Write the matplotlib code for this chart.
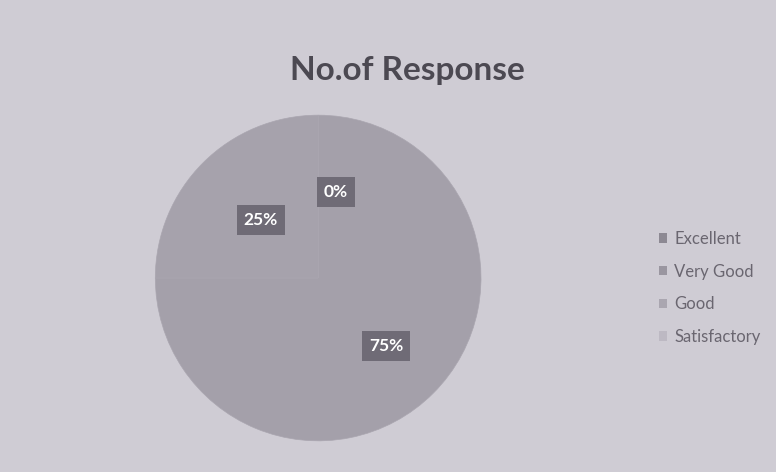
"""
Pie chart: No.of Response (share of responses per rating category).
"""

import numpy as np
import matplotlib.pyplot as plt
from matplotlib.patches import Patch

categories = ["Excellent", "Very Good", "Good", "Satisfactory"]
shares     = [75, 25, 0, 0]
pct_labels = ["75%", "25%", "0%", ""]

BG          = "#cfccd4"
SLICE_COLS  = ["#a4a0aa", "#a6a2ac", "#a8a4ae", "#aaa6b0"]
LEGEND_COLS = ["#8d8993", "#9a96a0", "#aaa6b0", "#bdb9c3"]
BOX_COL     = "#6f6b76"
TEXT_COL    = "#4c4952"


def main():
    plt.rcParams["font.family"] = ["Lato", "DejaVu Sans"]

    fig = plt.figure(figsize=(7.76, 4.72), dpi=100)
    fig.patch.set_facecolor(BG)

    fig.text(0.525, 0.85, "No.of Response", ha="center", va="center",
             fontsize=24, fontweight="bold", color=TEXT_COL)

    # pie axes, centre around (318, 278) px, radius ~163 px
    ax = fig.add_axes([0.41 - 0.21, 0.411 - 0.345, 0.42, 0.69])
    ax.set_facecolor(BG)
    wedges, _ = ax.pie(shares, colors=SLICE_COLS, startangle=90,
                       counterclock=False,
                       wedgeprops=dict(edgecolor="#aaa6b0", linewidth=0.5))
    ax.set_xlim(-1.0, 1.0)
    ax.set_ylim(-1.0, 1.0)
    ax.set_aspect("equal")

    # percentage labels in dark boxes, placed at the slice mid-angles
    total = float(sum(shares))
    start = 90.0
    dists = [0.59, 0.5, 0.53, 0.5]
    for val, lab, d in zip(shares, pct_labels, dists):
        sweep = 360.0 * val / total
        mid = np.deg2rad(start - sweep / 2)
        start -= sweep
        if not lab:
            continue
        x, y = d * np.cos(mid), d * np.sin(mid)
        if val == 0:
            x += 0.11
        ax.text(x, y, lab, ha="center", va="center", fontsize=12.5,
                fontweight="bold", color="white",
                bbox=dict(boxstyle="square,pad=0.4", fc=BOX_COL, ec="none"))

    handles = [Patch(facecolor=c, edgecolor="none") for c in LEGEND_COLS]
    fig.legend(handles, categories, loc="center left",
               bbox_to_anchor=(0.83, 0.39), frameon=False, fontsize=12,
               labelcolor="#6a6670", handlelength=0.5, handleheight=0.5,
               handletextpad=0.4, labelspacing=1.0)

    fig.savefig("out.png", dpi=100, facecolor=BG)


if __name__ == "__main__":
    main()
